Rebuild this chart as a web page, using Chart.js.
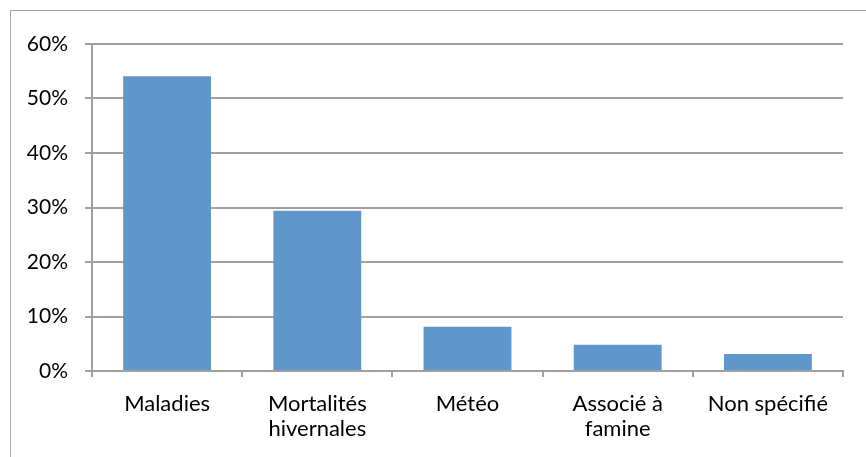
<!DOCTYPE html>
<html>
<head>
<meta charset="utf-8">
<script src="https://cdn.jsdelivr.net/npm/chart.js@4.4.1/dist/chart.umd.min.js"></script>
<style>
html,body{margin:0;padding:0;background:#fff;}
#wrap{position:relative;width:866px;height:457px;}
</style>
</head>
<body>
<div id="wrap"><canvas id="c" width="866" height="457"></canvas></div>
<script>
const categories = ["Maladies", ["Mortalités", "hivernales"], "Météo", ["Associé à", "famine"], "Non spécifié"];
const values = [54.1, 29.4, 8.1, 4.8, 3.1];
const yTicks = [0, 10, 20, 30, 40, 50, 60];

const YFONT = {family: 'Lato', size: 21, lineHeight: 1.2};
const XFONT = {family: 'Lato', size: 22, lineHeight: 1.12};
const GRID = '#a0a0a0';

const frame = {
  id: 'frame',
  beforeDraw(chart) {
    const ctx = chart.ctx;
    ctx.save();
    ctx.fillStyle = '#fff';
    ctx.fillRect(0, 0, chart.width, chart.height);
    ctx.strokeStyle = '#a6a6a6';
    ctx.lineWidth = 1;
    ctx.strokeRect(10.5, 10.5, 900, 500);
    ctx.restore();
  }
};

new Chart(document.getElementById('c'), {
  type: 'bar',
  data: {
    labels: categories,
    datasets: [{
      data: values,
      backgroundColor: '#6096c9',
      borderWidth: 0,
      categoryPercentage: 1,
      barPercentage: 0.585
    }]
  },
  options: {
    responsive: false,
    animation: false,
    devicePixelRatio: 1,
    layout: {padding: {left: 10, top: 44, right: 23, bottom: 0}},
    plugins: {legend: {display: false}, tooltip: {enabled: false}},
    scales: {
      y: {
        min: 0, max: 60,
        afterFit(s) { s.width = 82; },
        afterBuildTicks(s) { s.ticks = yTicks.map(v => ({value: v})); },
        ticks: {
          color: '#000',
          font: YFONT,
          padding: 17,
          callback: v => v + '%'
        },
        grid: {color: GRID, lineWidth: 2, tickLength: 7, drawTicks: true},
        border: {color: GRID, width: 2}
      },
      x: {
        afterFit(s) { s.height = 86; },
        ticks: {color: '#000', font: XFONT, padding: 15, maxRotation: 0, autoSkip: false},
        grid: {color: GRID, lineWidth: 2, tickLength: 6, drawOnChartArea: false, offset: true},
        border: {color: GRID, width: 2}
      }
    }
  },
  plugins: [frame]
});
</script>
</body>
</html>
